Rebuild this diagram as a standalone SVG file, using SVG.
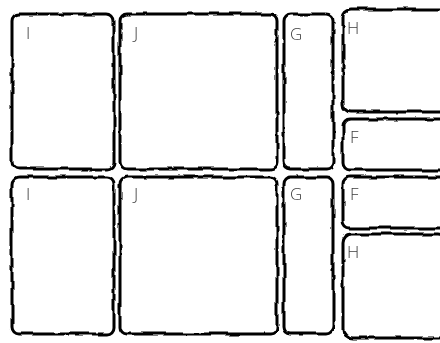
<svg xmlns="http://www.w3.org/2000/svg" width="440" height="343" viewBox="0 0 440 343">
<style>
  .box { fill: #fff; stroke: #000; stroke-width: 3; filter: url(#rough); }
  .lbl { font-family: "Open Sans", "DejaVu Sans", sans-serif; font-weight: 300; font-size: 17px; fill: #3a3a3a; opacity: 0.99; }
</style>
<defs>
  <filter id="rough" x="-5%" y="-5%" width="110%" height="110%">
    <feTurbulence type="fractalNoise" baseFrequency="0.05" numOctaves="3" seed="5" result="n"/>
    <feDisplacementMap in="SourceGraphic" in2="n" scale="4" xChannelSelector="R" yChannelSelector="G"/>
  </filter>
</defs>
<rect width="440" height="343" fill="#fff"/>
<g id="connectors"></g>
<g id="I1"><rect class="box" x="12" y="14" width="102" height="155" rx="7"/><text class="lbl" x="26" y="39">I</text></g>
<g id="J1"><rect class="box" x="120" y="14" width="157" height="155" rx="7"/><text class="lbl" x="134" y="39">J</text></g>
<g id="G1"><rect class="box" x="284" y="14" width="49" height="155" rx="7"/><text class="lbl" x="290" y="40">G</text></g>
<g id="H1"><rect class="box" x="343" y="9" width="105" height="103" rx="8"/><text class="lbl" x="347" y="34">H</text></g>
<g id="F1"><rect class="box" x="343" y="119" width="105" height="51" rx="7"/><text class="lbl" x="350" y="143">F</text></g>
<g id="I2"><rect class="box" x="12" y="177" width="102" height="157" rx="7"/><text class="lbl" x="26" y="200">I</text></g>
<g id="J2"><rect class="box" x="120" y="177" width="157" height="157" rx="7"/><text class="lbl" x="134" y="200">J</text></g>
<g id="G2"><rect class="box" x="284" y="177" width="49" height="156" rx="7"/><text class="lbl" x="290" y="200">G</text></g>
<g id="F2"><rect class="box" x="343" y="177" width="105" height="51" rx="7"/><text class="lbl" x="350" y="200">F</text></g>
<g id="H2"><rect class="box" x="343" y="234" width="105" height="104" rx="9"/><text class="lbl" x="347" y="258">H</text></g>
</svg>
